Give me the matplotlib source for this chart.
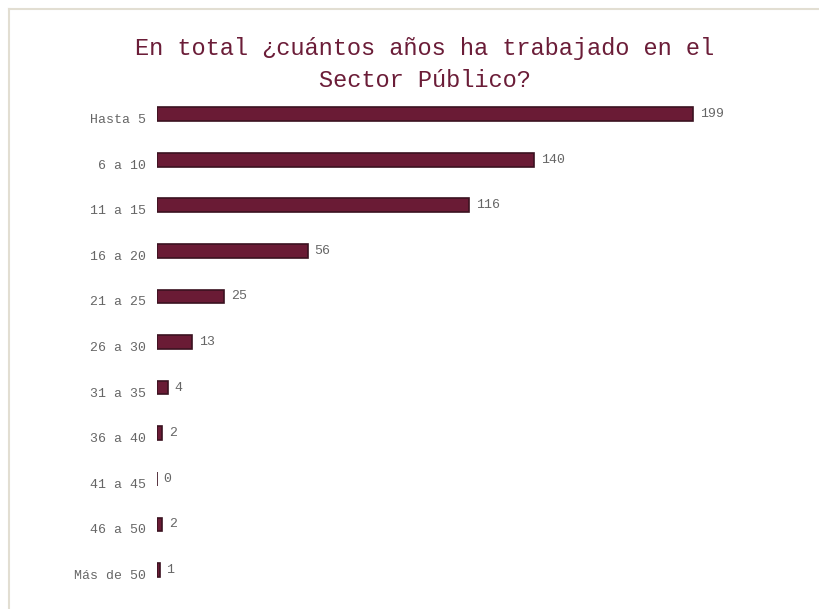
import matplotlib.pyplot as plt
from matplotlib.lines import Line2D

# años trabajados en el sector público
rangos = ['Hasta 5', '6 a 10', '11 a 15', '16 a 20', '21 a 25', '26 a 30',
          '31 a 35', '36 a 40', '41 a 45', '46 a 50', 'Más de 50']
personas = [199, 140, 116, 56, 25, 13, 4, 2, 0, 2, 1]

bar_color = '#6a1b35'
edge_color = '#3b1220'
title_color = '#6b1d38'
text_color = '#666666'

plt.rcParams['font.family'] = ['Liberation Mono', 'DejaVu Sans Mono']

fig = plt.figure(figsize=(8.2, 6.09), dpi=100)
ax = fig.add_axes([157 / 820, 0.0266, 0.914 - 157 / 820, 0.850 - 0.0266])

pos = list(range(len(rangos)))
ax.barh(pos, personas, height=0.30, color=bar_color,
        edgecolor=edge_color, linewidth=1.2)

for y, v in zip(pos, personas):
    ax.text(v + 2.5, y, str(v), va='center', ha='left',
            fontsize=9.5, color=text_color)

ax.set_xlim(0, 220)
ax.set_ylim(len(rangos) - 0.5, -0.5)
ax.set_yticks(pos)
ax.set_yticklabels(rangos, fontsize=9.5, color=text_color, va='top')
ax.tick_params(axis='y', length=0, pad=8)
ax.set_xticks([])
for s in ax.spines.values():
    s.set_visible(False)

fig.text(0.518, 0.894, 'En total ¿cuántos años ha trabajado en el\nSector Público?',
         ha='center', va='center', fontsize=17, color=title_color,
         linespacing=1.5)

# marco claro arriba y a la izquierda
fig.add_artist(Line2D([9 / 820, 1], [1 - 9 / 609, 1 - 9 / 609],
                      color='#e2ded2', linewidth=1.5))
fig.add_artist(Line2D([9 / 820, 9 / 820], [0, 1 - 9 / 609],
                      color='#e2ded2', linewidth=1.5))

fig.savefig('out.png', dpi=100)
